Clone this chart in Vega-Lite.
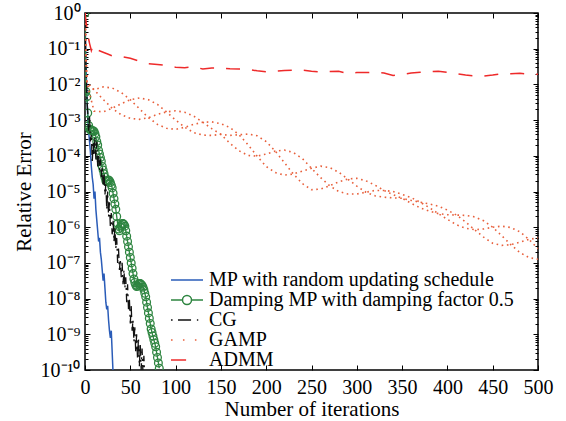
{
 "$schema": "https://vega.github.io/schema/vega-lite/v6.json",
 "width": 453, "height": 357,
 "autosize": {"type": "none"},
 "padding": {"left": 85, "top": 13, "right": 28, "bottom": 51},
 "background": "white",
 "config": {
  "view": {"stroke": "#000", "strokeWidth": 1.5},
  "font": "Liberation Serif",
  "axis": {"labelFont": "Liberation Serif", "titleFont": "Liberation Serif", "labelFontSize": 20, "titleFontSize": 21, "labelColor": "#000", "titleColor": "#000", "titleFontWeight": "normal", "grid": false, "domain": false, "tickColor": "#000", "labelOverlap": false}
 },
 "datasets": {
  "mp": [{"iter":0,"err":1},{"iter":1,"err":3.98e-2},{"iter":2,"err":6.31e-3},{"iter":3,"err":1.26e-3},{"iter":4,"err":5.01e-4},{"iter":5,"err":2.51e-4},{"iter":6,"err":1.26e-4},{"iter":7,"err":5.01e-5},{"iter":8,"err":2.51e-5},{"iter":9,"err":1.58e-5},{"iter":10,"err":6.31e-6},{"iter":11,"err":1e-5},{"iter":12,"err":3.16e-6},{"iter":13,"err":1.58e-6},{"iter":14,"err":7.94e-7},{"iter":15,"err":3.98e-7},{"iter":16,"err":5.01e-7},{"iter":17,"err":2e-7},{"iter":18,"err":1.26e-7},{"iter":19,"err":6.31e-8},{"iter":20,"err":3.16e-8},{"iter":21,"err":5.01e-8},{"iter":22,"err":2e-8},{"iter":23,"err":7.94e-9},{"iter":24,"err":5.01e-9},{"iter":25,"err":6.31e-9},{"iter":26,"err":2.51e-9},{"iter":27,"err":1.26e-9},{"iter":28,"err":7.94e-10},{"iter":29,"err":1.26e-9},{"iter":30,"err":3.16e-10},{"iter":31,"err":7.94e-11}],
  "damp": [{"iter":0,"err":1},{"iter":1,"err":6.31e-3},{"iter":2,"err":4.47e-3},{"iter":3,"err":1.58e-3},{"iter":4,"err":7.08e-4},{"iter":5,"err":5.62e-4},{"iter":6,"err":5.25e-4},{"iter":7,"err":5.25e-4},{"iter":8,"err":5.01e-4},{"iter":9,"err":5.01e-4},{"iter":10,"err":4.79e-4},{"iter":11,"err":4.17e-4},{"iter":12,"err":3.39e-4},{"iter":13,"err":2.51e-4},{"iter":14,"err":2e-4},{"iter":15,"err":1.41e-4},{"iter":16,"err":1.12e-4},{"iter":17,"err":8.91e-5},{"iter":18,"err":7.08e-5},{"iter":19,"err":5.01e-5},{"iter":20,"err":3.98e-5},{"iter":21,"err":3.16e-5},{"iter":22,"err":2.51e-5},{"iter":23,"err":2e-5},{"iter":24,"err":1.91e-5},{"iter":25,"err":2e-5},{"iter":26,"err":2.09e-5},{"iter":27,"err":2e-5},{"iter":28,"err":1.78e-5},{"iter":29,"err":1.51e-5},{"iter":30,"err":1.26e-5},{"iter":31,"err":8.91e-6},{"iter":32,"err":6.31e-6},{"iter":33,"err":4.47e-6},{"iter":34,"err":3.16e-6},{"iter":35,"err":2e-6},{"iter":36,"err":1.26e-6},{"iter":37,"err":8.91e-7},{"iter":38,"err":7.94e-7},{"iter":39,"err":1e-6},{"iter":40,"err":1.12e-6},{"iter":41,"err":1.26e-6},{"iter":42,"err":1.26e-6},{"iter":43,"err":1.2e-6},{"iter":44,"err":1.07e-6},{"iter":45,"err":7.94e-7},{"iter":46,"err":5.62e-7},{"iter":47,"err":3.98e-7},{"iter":48,"err":2.82e-7},{"iter":49,"err":2e-7},{"iter":50,"err":1.41e-7},{"iter":51,"err":1e-7},{"iter":52,"err":7.08e-8},{"iter":53,"err":5.01e-8},{"iter":54,"err":3.55e-8},{"iter":55,"err":2.82e-8},{"iter":56,"err":2.4e-8},{"iter":57,"err":2.19e-8},{"iter":58,"err":2.24e-8},{"iter":59,"err":2.51e-8},{"iter":60,"err":2.63e-8},{"iter":61,"err":2.63e-8},{"iter":62,"err":2.51e-8},{"iter":63,"err":2.34e-8},{"iter":64,"err":2.09e-8},{"iter":65,"err":1.78e-8},{"iter":66,"err":1.41e-8},{"iter":67,"err":1.12e-8},{"iter":68,"err":7.94e-9},{"iter":69,"err":5.62e-9},{"iter":70,"err":3.98e-9},{"iter":71,"err":2.82e-9},{"iter":72,"err":2e-9},{"iter":73,"err":1.41e-9},{"iter":74,"err":1.12e-9},{"iter":75,"err":8.91e-10},{"iter":76,"err":7.08e-10},{"iter":77,"err":5.62e-10},{"iter":78,"err":4.47e-10},{"iter":79,"err":3.16e-10},{"iter":80,"err":2.24e-10},{"iter":81,"err":1.58e-10},{"iter":82,"err":1.12e-10}],
  "cg": [{"iter":0,"err":1},{"iter":1,"err":3.16e-2},{"iter":2,"err":5.01e-3},{"iter":3,"err":1.58e-3},{"iter":4,"err":5.01e-4},{"iter":5,"err":1.26e-3},{"iter":6,"err":2.51e-4},{"iter":7,"err":3.98e-4},{"iter":8,"err":6.31e-5},{"iter":9,"err":2.51e-4},{"iter":10,"err":1e-4},{"iter":11,"err":3.16e-4},{"iter":12,"err":7.94e-5},{"iter":13,"err":2.51e-4},{"iter":14,"err":5.01e-5},{"iter":15,"err":1e-4},{"iter":16,"err":3.98e-5},{"iter":17,"err":7.94e-5},{"iter":18,"err":2.51e-5},{"iter":19,"err":5.01e-5},{"iter":20,"err":1.58e-5},{"iter":21,"err":3.16e-5},{"iter":22,"err":7.94e-6},{"iter":23,"err":1.58e-5},{"iter":24,"err":3.16e-6},{"iter":25,"err":1e-5},{"iter":26,"err":2e-6},{"iter":27,"err":5.01e-6},{"iter":28,"err":1e-6},{"iter":29,"err":2.51e-6},{"iter":30,"err":6.31e-7},{"iter":31,"err":1.58e-6},{"iter":32,"err":3.98e-7},{"iter":33,"err":1e-6},{"iter":34,"err":2.51e-7},{"iter":35,"err":5.01e-7},{"iter":36,"err":1e-7},{"iter":37,"err":2.51e-7},{"iter":38,"err":6.31e-8},{"iter":39,"err":1.26e-7},{"iter":40,"err":3.98e-8},{"iter":41,"err":1e-7},{"iter":42,"err":2.51e-8},{"iter":43,"err":6.31e-8},{"iter":44,"err":2e-8},{"iter":45,"err":3.98e-8},{"iter":46,"err":7.94e-9},{"iter":47,"err":2.51e-8},{"iter":48,"err":5.01e-9},{"iter":49,"err":1e-8},{"iter":50,"err":2e-9},{"iter":51,"err":6.31e-9},{"iter":52,"err":1.26e-9},{"iter":53,"err":2.51e-9},{"iter":54,"err":6.31e-10},{"iter":55,"err":1.58e-9},{"iter":56,"err":3.16e-10},{"iter":57,"err":1e-9},{"iter":58,"err":2e-10},{"iter":59,"err":7.94e-10},{"iter":60,"err":1.26e-10},{"iter":61,"err":5.01e-10},{"iter":62,"err":1e-10},{"iter":63,"err":3.98e-10},{"iter":64,"err":7.94e-11},{"iter":65,"err":2.51e-10},{"iter":66,"err":5.01e-11}],
  "gamp": [
   {"strand":"a","iter":0,"err":1},{"strand":"a","iter":2,"err":1.12e-2},{"strand":"a","iter":10,"err":7.08e-3},{"strand":"a","iter":20,"err":8.51e-3},{"strand":"a","iter":30,"err":7.94e-3},{"strand":"a","iter":40,"err":5.89e-3},{"strand":"a","iter":50,"err":3.72e-3},{"strand":"a","iter":60,"err":2.09e-3},{"strand":"a","iter":70,"err":1.17e-3},{"strand":"a","iter":80,"err":7.59e-4},{"strand":"a","iter":90,"err":5.89e-4},{"strand":"a","iter":100,"err":5.5e-4},{"strand":"a","iter":110,"err":6.31e-4},{"strand":"a","iter":120,"err":7.59e-4},{"strand":"a","iter":130,"err":8.71e-4},{"strand":"a","iter":140,"err":8.91e-4},{"strand":"a","iter":150,"err":7.94e-4},{"strand":"a","iter":160,"err":6.17e-4},{"strand":"a","iter":170,"err":3.89e-4},{"strand":"a","iter":180,"err":2.04e-4},{"strand":"a","iter":190,"err":9.77e-5},{"strand":"a","iter":200,"err":5.01e-5},{"strand":"a","iter":210,"err":3.39e-5},{"strand":"a","iter":220,"err":2.88e-5},{"strand":"a","iter":230,"err":3.09e-5},{"strand":"a","iter":240,"err":3.72e-5},{"strand":"a","iter":250,"err":4.47e-5},{"strand":"a","iter":260,"err":5.13e-5},{"strand":"a","iter":270,"err":4.68e-5},{"strand":"a","iter":280,"err":3.47e-5},{"strand":"a","iter":290,"err":2.24e-5},{"strand":"a","iter":300,"err":1.41e-5},{"strand":"a","iter":310,"err":9.55e-6},{"strand":"a","iter":320,"err":7.59e-6},{"strand":"a","iter":330,"err":6.92e-6},{"strand":"a","iter":340,"err":6.61e-6},{"strand":"a","iter":350,"err":6.46e-6},{"strand":"a","iter":360,"err":5.62e-6},{"strand":"a","iter":370,"err":5.01e-6},{"strand":"a","iter":380,"err":4.47e-6},{"strand":"a","iter":390,"err":3.89e-6},{"strand":"a","iter":400,"err":3.02e-6},{"strand":"a","iter":410,"err":2.19e-6},{"strand":"a","iter":420,"err":1.41e-6},{"strand":"a","iter":430,"err":8.51e-7},{"strand":"a","iter":440,"err":5.25e-7},{"strand":"a","iter":450,"err":3.55e-7},{"strand":"a","iter":460,"err":3.09e-7},{"strand":"a","iter":470,"err":3.24e-7},{"strand":"a","iter":480,"err":3.8e-7},{"strand":"a","iter":490,"err":4.57e-7},{"strand":"a","iter":500,"err":5.01e-7},
   {"strand":"b","iter":0,"err":1},{"strand":"b","iter":2,"err":1.12e-2},{"strand":"b","iter":10,"err":7.08e-3},{"strand":"b","iter":20,"err":3.8e-3},{"strand":"b","iter":30,"err":2.14e-3},{"strand":"b","iter":40,"err":1.41e-3},{"strand":"b","iter":50,"err":1.12e-3},{"strand":"b","iter":60,"err":1.05e-3},{"strand":"b","iter":70,"err":1.17e-3},{"strand":"b","iter":80,"err":1.45e-3},{"strand":"b","iter":90,"err":1.7e-3},{"strand":"b","iter":100,"err":1.82e-3},{"strand":"b","iter":110,"err":1.66e-3},{"strand":"b","iter":120,"err":1.29e-3},{"strand":"b","iter":130,"err":8.71e-4},{"strand":"b","iter":140,"err":5.75e-4},{"strand":"b","iter":150,"err":3.98e-4},{"strand":"b","iter":160,"err":2.24e-4},{"strand":"b","iter":170,"err":1.38e-4},{"strand":"b","iter":180,"err":1.02e-4},{"strand":"b","iter":190,"err":9.77e-5},{"strand":"b","iter":200,"err":1.12e-4},{"strand":"b","iter":210,"err":1.35e-4},{"strand":"b","iter":220,"err":1.45e-4},{"strand":"b","iter":230,"err":1.23e-4},{"strand":"b","iter":240,"err":8.32e-5},{"strand":"b","iter":250,"err":4.47e-5},{"strand":"b","iter":260,"err":2.45e-5},{"strand":"b","iter":270,"err":1.45e-5},{"strand":"b","iter":280,"err":1e-5},{"strand":"b","iter":290,"err":8.51e-6},{"strand":"b","iter":300,"err":8.51e-6},{"strand":"b","iter":310,"err":9.55e-6},{"strand":"b","iter":320,"err":1.07e-5},{"strand":"b","iter":330,"err":1.07e-5},{"strand":"b","iter":340,"err":1e-5},{"strand":"b","iter":350,"err":8.32e-6},{"strand":"b","iter":360,"err":6.76e-6},{"strand":"b","iter":370,"err":5.01e-6},{"strand":"b","iter":380,"err":3.55e-6},{"strand":"b","iter":390,"err":2.4e-6},{"strand":"b","iter":400,"err":1.66e-6},{"strand":"b","iter":410,"err":1.17e-6},{"strand":"b","iter":420,"err":9.33e-7},{"strand":"b","iter":430,"err":8.51e-7},{"strand":"b","iter":440,"err":8.91e-7},{"strand":"b","iter":450,"err":1e-6},{"strand":"b","iter":460,"err":1.07e-6},{"strand":"b","iter":470,"err":9.77e-7},{"strand":"b","iter":480,"err":7.41e-7},{"strand":"b","iter":490,"err":4.57e-7},{"strand":"b","iter":500,"err":2.51e-7},
   {"strand":"c","iter":0,"err":1},{"strand":"c","iter":2,"err":1.12e-2},{"strand":"c","iter":10,"err":1.78e-3},{"strand":"c","iter":20,"err":1.7e-3},{"strand":"c","iter":30,"err":2.14e-3},{"strand":"c","iter":40,"err":2.88e-3},{"strand":"c","iter":50,"err":3.72e-3},{"strand":"c","iter":60,"err":4.17e-3},{"strand":"c","iter":70,"err":3.72e-3},{"strand":"c","iter":80,"err":2.75e-3},{"strand":"c","iter":90,"err":1.7e-3},{"strand":"c","iter":100,"err":1e-3},{"strand":"c","iter":110,"err":6.31e-4},{"strand":"c","iter":120,"err":4.47e-4},{"strand":"c","iter":130,"err":3.8e-4},{"strand":"c","iter":140,"err":3.72e-4},{"strand":"c","iter":150,"err":3.98e-4},{"strand":"c","iter":160,"err":3.72e-4},{"strand":"c","iter":170,"err":3.89e-4},{"strand":"c","iter":180,"err":4.07e-4},{"strand":"c","iter":190,"err":3.63e-4},{"strand":"c","iter":200,"err":2.51e-4},{"strand":"c","iter":210,"err":1.35e-4},{"strand":"c","iter":220,"err":6.46e-5},{"strand":"c","iter":230,"err":3.09e-5},{"strand":"c","iter":240,"err":1.66e-5},{"strand":"c","iter":250,"err":1.12e-5},{"strand":"c","iter":260,"err":1.17e-5},{"strand":"c","iter":270,"err":1.45e-5},{"strand":"c","iter":280,"err":1.86e-5},{"strand":"c","iter":290,"err":2.24e-5},{"strand":"c","iter":300,"err":2.34e-5},{"strand":"c","iter":310,"err":2e-5},{"strand":"c","iter":320,"err":1.51e-5},{"strand":"c","iter":330,"err":1.07e-5},{"strand":"c","iter":340,"err":8.13e-6},{"strand":"c","iter":350,"err":6.46e-6},{"strand":"c","iter":360,"err":4.68e-6},{"strand":"c","iter":370,"err":3.47e-6},{"strand":"c","iter":380,"err":2.82e-6},{"strand":"c","iter":390,"err":2.4e-6},{"strand":"c","iter":400,"err":2.24e-6},{"strand":"c","iter":410,"err":2.19e-6},{"strand":"c","iter":420,"err":2.14e-6},{"strand":"c","iter":430,"err":1.95e-6},{"strand":"c","iter":440,"err":1.51e-6},{"strand":"c","iter":450,"err":1e-6},{"strand":"c","iter":460,"err":5.75e-7},{"strand":"c","iter":470,"err":3.24e-7},{"strand":"c","iter":480,"err":1.95e-7},{"strand":"c","iter":490,"err":1.41e-7},{"strand":"c","iter":500,"err":1.26e-7}
  ],
  "admm": [{"iter":0,"err":1},{"iter":3,"err":2.51e-1},{"iter":5,"err":1.41e-1},{"iter":7,"err":8.91e-2},{"iter":9,"err":1.26e-1},{"iter":11,"err":1e-1},{"iter":15,"err":8.91e-2},{"iter":20,"err":7.94e-2},{"iter":25,"err":7.08e-2},{"iter":30,"err":6.31e-2},{"iter":40,"err":6.03e-2},{"iter":50,"err":5.37e-2},{"iter":60,"err":4.47e-2},{"iter":70,"err":3.8e-2},{"iter":80,"err":3.63e-2},{"iter":90,"err":3.39e-2},{"iter":100,"err":3.02e-2},{"iter":110,"err":2.95e-2},{"iter":120,"err":3.16e-2},{"iter":130,"err":2.69e-2},{"iter":140,"err":2.88e-2},{"iter":150,"err":2.88e-2},{"iter":160,"err":2.75e-2},{"iter":170,"err":2.69e-2},{"iter":180,"err":2.63e-2},{"iter":190,"err":2.4e-2},{"iter":200,"err":2.24e-2},{"iter":210,"err":2.34e-2},{"iter":220,"err":2.45e-2},{"iter":230,"err":2.51e-2},{"iter":240,"err":2.51e-2},{"iter":250,"err":2.34e-2},{"iter":260,"err":2.24e-2},{"iter":270,"err":2.29e-2},{"iter":280,"err":2.34e-2},{"iter":290,"err":2e-2},{"iter":300,"err":2.14e-2},{"iter":310,"err":2.14e-2},{"iter":320,"err":2.19e-2},{"iter":330,"err":2.09e-2},{"iter":340,"err":1.78e-2},{"iter":350,"err":1.91e-2},{"iter":360,"err":2.09e-2},{"iter":370,"err":2.19e-2},{"iter":380,"err":2.29e-2},{"iter":390,"err":2.34e-2},{"iter":400,"err":2.19e-2},{"iter":410,"err":2e-2},{"iter":420,"err":1.82e-2},{"iter":430,"err":1.74e-2},{"iter":440,"err":1.7e-2},{"iter":450,"err":1.82e-2},{"iter":460,"err":2e-2},{"iter":470,"err":2e-2},{"iter":480,"err":2.04e-2},{"iter":490,"err":1.91e-2},{"iter":500,"err":1.91e-2}],
  "names": [{"series":"MP with random updating schedule"},{"series":"Damping MP with damping factor 0.5"},{"series":"CG"},{"series":"GAMP"},{"series":"ADMM"}]
 },
 "encoding": {
  "x": {"field": "iter", "type": "quantitative", "scale": {"domain": [0, 500], "nice": false, "zero": false}, "axis": null},
  "y": {"field": "err", "type": "quantitative", "scale": {"type": "log", "domain": [1e-10, 1], "nice": false}, "axis": null}
 },
 "layer": [
  {
   "data": {"name": "mp"},
   "mark": {"type": "line", "clip": true, "color": "#2a5cb8", "strokeWidth": 1.5},
   "encoding": {
    "x": {"field": "iter", "type": "quantitative", "scale": {"domain": [0, 500], "nice": false, "zero": false},
          "axis": {"orient": "bottom", "values": [0,50,100,150,200,250,300,350,400,450,500], "title": "Number of iterations", "tickSize": -5, "tickWidth": 1, "labelPadding": 12, "titlePadding": 1, "labelFlush": false}},
    "y": {"field": "err", "type": "quantitative", "scale": {"type": "log", "domain": [1e-10, 1], "nice": false},
          "axis": {"orient": "left", "values": [1,0.1,0.01,0.001,1e-4,1e-5,1e-6,1e-7,1e-8,1e-9,1e-10], "labelExpr": "'10' + ['⁰','⁻¹','⁻²','⁻³','⁻⁴','⁻⁵','⁻⁶','⁻⁷','⁻⁸','⁻⁹','⁻¹⁰'][round(-log(datum.value)/LN10)]", "title": "Relative Error", "tickSize": -5, "tickWidth": 1, "labelPadding": 10, "titlePadding": 6}}
   }
  },
  {"data": {"name": "damp"}, "mark": {"type": "line", "clip": true, "color": "#2e8540", "strokeWidth": 1.3}},
  {"data": {"name": "damp"}, "mark": {"type": "point", "clip": true, "filled": false, "color": "#2e8540", "opacity": 1, "size": 60, "strokeWidth": 1.3}},
  {"data": {"name": "cg"}, "mark": {"type": "line", "clip": true, "color": "#111111", "strokeWidth": 1.3, "strokeDash": [2, 4, 11, 4]}},
  {"data": {"name": "gamp"}, "mark": {"type": "line", "clip": true, "color": "#e8603c", "strokeWidth": 1.6, "strokeDash": [1.6, 3.6]}, "encoding": {"detail": {"field": "strand"}}},
  {"data": {"name": "admm"}, "mark": {"type": "line", "clip": true, "color": "#ee2a2a", "strokeWidth": 1.5, "strokeDash": [14, 12]}},
  {
   "data": {"name": "names"},
   "mark": {"type": "point", "filled": false, "opacity": 1},
   "encoding": {
    "color": {"field": "series", "type": "nominal",
      "scale": {"domain": ["MP with random updating schedule","Damping MP with damping factor 0.5","CG","GAMP","ADMM"], "range": ["#2a5cb8","#2e8540","#111111","#e8603c","#ee2a2a"]},
      "legend": {"title": null, "orient": "none", "legendX": 92, "legendY": 257, "padding": 0, "rowPadding": -4, "symbolSize": 324, "symbolStrokeWidth": 1.5, "symbolOpacity": 1, "labelFont": "Liberation Serif", "labelFontSize": 20, "labelColor": "#000", "labelOffset": 12, "labelLimit": 400}},
    "shape": {"field": "series", "type": "nominal",
      "scale": {"domain": ["MP with random updating schedule","Damping MP with damping factor 0.5","CG","GAMP","ADMM"],
                "range": ["M-1.78,0H1.78", "M-1.78,0H-0.5M0.5,0H1.78M-0.5,0A0.5,0.5 0 1,0 0.5,0A0.5,0.5 0 1,0 -0.5,0", "M-1.78,0H-1.6M-1,0H0.45M1.1,0H1.25", "M-1.78,0H-1.6M-0.45,0H-0.28M0.88,0H1.05", "M-1.78,0H-0.1"]},
      "legend": {"title": null, "orient": "none", "legendX": 92, "legendY": 257, "padding": 0, "rowPadding": -4, "symbolSize": 324, "symbolStrokeWidth": 1.5, "symbolOpacity": 1, "labelFont": "Liberation Serif", "labelFontSize": 20, "labelColor": "#000", "labelOffset": 12, "labelLimit": 400}}
   }
  },
  {
   "data": {"name": "names"},
   "mark": {"type": "point", "opacity": 0},
   "encoding": {
    "y": {"field": "err", "type": "quantitative", "scale": {"type": "log", "domain": [1e-10, 1], "nice": false},
          "axis": {"orient": "left", "values": [2e-10,3e-10,4e-10,5e-10,6e-10,7e-10,8e-10,9e-10,2e-9,3e-9,4e-9,5e-9,6e-9,7e-9,8e-9,9e-9,2e-8,3e-8,4e-8,5e-8,6e-8,7e-8,8e-8,9e-8,2e-7,3e-7,4e-7,5e-7,6e-7,7e-7,8e-7,9e-7,2e-6,3e-6,4e-6,5e-6,6e-6,7e-6,8e-6,9e-6,2e-5,3e-5,4e-5,5e-5,6e-5,7e-5,8e-5,9e-5,2e-4,3e-4,4e-4,5e-4,6e-4,7e-4,8e-4,9e-4,0.002,0.003,0.004,0.005,0.006,0.007,0.008,0.009,0.02,0.03,0.04,0.05,0.06,0.07,0.08,0.09,0.2,0.3,0.4,0.5,0.6,0.7,0.8,0.9], "labels": false, "title": null, "tickSize": -3, "tickWidth": 1}}
   }
  },
  {
   "data": {"name": "names"},
   "mark": {"type": "point", "opacity": 0},
   "encoding": {
    "x": {"field": "iter", "type": "quantitative", "scale": {"domain": [0, 500], "nice": false, "zero": false},
          "axis": {"orient": "top", "values": [0,50,100,150,200,250,300,350,400,450,500], "labels": false, "title": null, "tickSize": -5, "tickWidth": 1}},
    "y": {"field": "err", "type": "quantitative", "scale": {"type": "log", "domain": [1e-10, 1], "nice": false},
          "axis": {"orient": "right", "values": [1,0.1,0.01,0.001,1e-4,1e-5,1e-6,1e-7,1e-8,1e-9,1e-10], "labels": false, "title": null, "tickSize": -5, "tickWidth": 1}}
   }
  },
  {
   "data": {"name": "names"},
   "mark": {"type": "point", "opacity": 0},
   "encoding": {
    "y": {"field": "err", "type": "quantitative", "scale": {"type": "log", "domain": [1e-10, 1], "nice": false},
          "axis": {"orient": "right", "values": [2e-10,3e-10,4e-10,5e-10,6e-10,7e-10,8e-10,9e-10,2e-9,3e-9,4e-9,5e-9,6e-9,7e-9,8e-9,9e-9,2e-8,3e-8,4e-8,5e-8,6e-8,7e-8,8e-8,9e-8,2e-7,3e-7,4e-7,5e-7,6e-7,7e-7,8e-7,9e-7,2e-6,3e-6,4e-6,5e-6,6e-6,7e-6,8e-6,9e-6,2e-5,3e-5,4e-5,5e-5,6e-5,7e-5,8e-5,9e-5,2e-4,3e-4,4e-4,5e-4,6e-4,7e-4,8e-4,9e-4,0.002,0.003,0.004,0.005,0.006,0.007,0.008,0.009,0.02,0.03,0.04,0.05,0.06,0.07,0.08,0.09,0.2,0.3,0.4,0.5,0.6,0.7,0.8,0.9], "labels": false, "title": null, "tickSize": -3, "tickWidth": 1}}
   }
  }
 ],
 "resolve": {"axis": {"x": "independent", "y": "independent"}}
}
